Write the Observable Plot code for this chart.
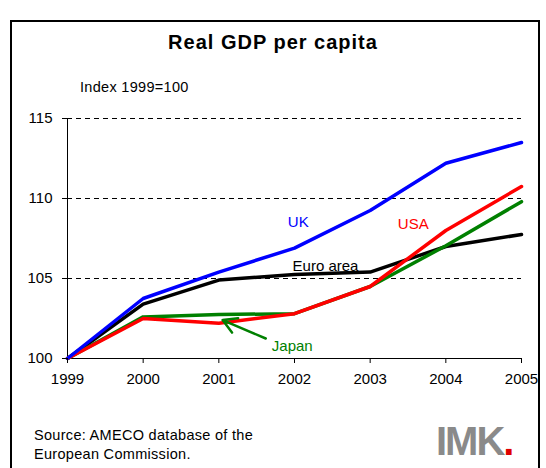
<!DOCTYPE html>
<html style="overflow:hidden"><head><meta charset="utf-8">
<script src="https://cdn.jsdelivr.net/npm/d3@7"></script>
<script src="https://cdn.jsdelivr.net/npm/@observablehq/plot@0.6"></script>
<style>
html,body{margin:0;padding:0}
body{width:546px;height:468px;position:relative;background:#fff;font-family:"Liberation Sans",Arial,sans-serif;overflow:hidden}
#frame{position:absolute;left:10px;top:20px;width:530px;height:448px;border:2px solid #000;border-bottom:none;box-sizing:border-box}
#title{position:absolute;left:0;width:546px;top:31px;text-align:center;font-weight:bold;font-size:20px;letter-spacing:1px}
#sub{position:absolute;left:80px;top:79px;font-size:14.5px;letter-spacing:0.3px}
#src{position:absolute;left:34px;top:426px;font-size:14.5px;line-height:19px;letter-spacing:0.3px}
#logo{position:absolute;left:436px;top:418px;font-size:40px;line-height:46px;color:#8a8a8a;font-weight:bold;letter-spacing:-2px}
#logo span{color:#e00000}
#chart{position:absolute;left:0;top:0;width:546px;height:400px}
#chart svg{display:block}
</style></head><body>
<div id="frame"></div>
<div id="title">Real GDP per capita</div>
<div id="sub">Index 1999=100</div>
<div id="chart"></div>
<div id="src">Source: AMECO database of the<br>European Commission.</div>
<div id="logo">IMK<span>.</span></div>
<script>
const years=[1999,2000,2001,2002,2003,2004,2005];
const uk=[100,103.75,105.4,106.9,109.25,112.2,113.5];
const euro=[100,103.4,104.9,105.25,105.4,107.0,107.75];
const usa=[100,102.5,102.2,102.8,104.5,108.0,110.75];
const japan=[100,102.6,102.75,102.8,104.5,107.05,109.8];
const yTicks=[100,105,110,115];
const series=[["Euro area",euro,"#000"],["Japan",japan,"#008000"],["USA",usa,"#ff0000"],["UK",uk,"#0000ff"]];
const rows=series.flatMap(([n,v,c])=>years.map((y,i)=>({s:n,x:y,y:v[i],c})));
const labels=[{t:"UK",x:2002.05,y:108.5,c:"#0000ff"},{t:"USA",x:2003.57,y:108.4,c:"#ff0000"},{t:"Euro area",x:2002.41,y:105.8,c:"#000"},{t:"Japan",x:2001.97,y:100.75,c:"#008000"}];
const p=Plot.plot({width:546,height:400,marginLeft:67,marginRight:25,marginTop:118,marginBottom:42,
style:{fontFamily:"Liberation Sans, Arial, sans-serif",fontSize:"15px",color:"#000",background:"transparent",overflow:"visible"},
x:{domain:[1999,2005],ticks:years,tickFormat:"d",label:null},
y:{domain:[100,115],ticks:yTicks,label:null},
marks:[
Plot.ruleY([105,110,115],{stroke:"#000",strokeDasharray:"5,4",strokeWidth:1}),
Plot.ruleX([1999],{stroke:"#000"}),Plot.ruleY([100],{stroke:"#000"}),
Plot.line(rows,{x:"x",y:"y",z:"s",stroke:"c",strokeWidth:3.5}),
Plot.arrow([{x1:2001.62,y1:101.25,x2:2001.05,y2:102.4}],{x1:"x1",y1:"y1",x2:"x2",y2:"y2",stroke:"#008000",strokeWidth:2.5,headLength:10}),
Plot.text(labels,{x:"x",y:"y",text:"t",fill:"c",fontSize:15}),
Plot.axisX({ticks:years,tickFormat:"d",tickSize:5,tickPadding:10,fontSize:15}),
Plot.axisY({ticks:yTicks,tickSize:5,tickPadding:10,fontSize:15})
]});
document.getElementById("chart").appendChild(p);
</script></body></html>
